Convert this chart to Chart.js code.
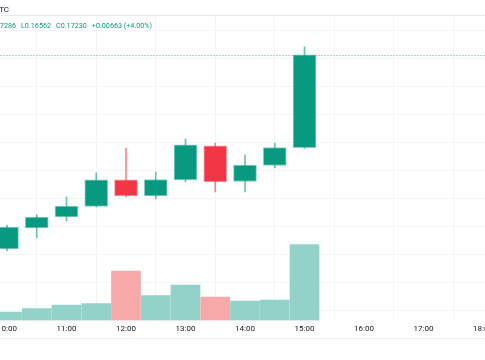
<!DOCTYPE html>
<html>
<head>
<meta charset="utf-8">
<script src="https://cdn.jsdelivr.net/npm/chart.js@4/dist/chart.umd.min.js"></script>
<style>
  html, body { margin: 0; padding: 0; background: #fff; }
  #wrap { width: 485px; height: 360px; }
</style>
</head>
<body>
<div id="wrap"><canvas id="chart" width="485" height="360"></canvas></div>
<script>
/* ============================================================
   DATA — 30 min candles
============================================================ */
const symbol = "BTC";
const hours  = [10, 10.5, 11, 11.5, 12, 12.5, 13, 13.5, 14, 14.5, 15];
const open   = [0.15843, 0.15993, 0.16071, 0.16146, 0.16336, 0.16221, 0.16336, 0.16579, 0.16325, 0.16439, 0.16567];
const high   = [0.16014, 0.16086, 0.16214, 0.16386, 0.16564, 0.16393, 0.16629, 0.16600, 0.16514, 0.16600, 0.17286];
const low    = [0.15829, 0.15921, 0.16043, 0.16143, 0.16214, 0.16200, 0.16321, 0.16250, 0.16250, 0.16421, 0.16562];
const close  = [0.16000, 0.16071, 0.16150, 0.16336, 0.16221, 0.16339, 0.16586, 0.16321, 0.16443, 0.16568, 0.17230];
const volume = [170, 240, 310, 340, 990, 500, 710, 470, 390, 410, 1520];

const hourTicks  = [10, 11, 12, 13, 14, 15, 16, 17, 18];
const priceTicks = [0.154, 0.156, 0.158, 0.160, 0.162, 0.164, 0.166, 0.168, 0.170, 0.172, 0.174];

/* ============================================================
   COLORS
============================================================ */
const UP = "#089981";
const DOWN = "#f23645";
const UP_EDGE = "rgba(8, 153, 129, 0.45)";
const DOWN_EDGE = "rgba(242, 54, 69, 0.45)";
const UP_WICK = "rgba(8, 153, 129, 0.6)";
const DOWN_WICK = "rgba(242, 54, 69, 0.6)";
const UP_VOL = "#92d2c9";
const DOWN_VOL = "#f7a9a9";
const GRID = "#f3f5f9";

const isUp = hours.map((_, i) => close[i] >= open[i]);

/* ============================================================
   OVERLAY — title, OHLC legend, last price line, borders
============================================================ */
const overlay = {
    id: "overlay",
    beforeDraw(chart) {
        const ctx = chart.ctx;
        ctx.save();
        ctx.fillStyle = "#fff";
        ctx.fillRect(0, 0, chart.width, chart.height);
        ctx.restore();
    },
    beforeDatasetsDraw(chart) {
        const { ctx, chartArea, scales } = chart;
        const n = close.length - 1;
        const y = Math.round(scales.y.getPixelForValue(close[n])) + 0.5;

        ctx.save();
        ctx.strokeStyle = "rgba(8, 153, 129, 0.35)";
        ctx.lineWidth = 1;
        ctx.setLineDash([2, 1]);
        ctx.beginPath();
        ctx.moveTo(chartArea.left, y);
        ctx.lineTo(chartArea.right, y);
        ctx.stroke();
        ctx.restore();
    },
    afterDraw(chart) {
        const { ctx, chartArea, scales } = chart;
        const n = close.length - 1;

        ctx.save();
        // pane top border and time axis bottom border
        ctx.strokeStyle = "#e8eaf1";
        ctx.lineWidth = 1;
        ctx.beginPath();
        ctx.moveTo(0, chartArea.top - 0.5);
        ctx.lineTo(chart.width, chartArea.top - 0.5);
        ctx.stroke();
        ctx.strokeStyle = "#eef0f4";
        ctx.beginPath();
        ctx.moveTo(0, Math.round(scales.x.bottom) - 0.5);
        ctx.lineTo(chart.width, Math.round(scales.x.bottom) - 0.5);
        ctx.stroke();

        // symbol title
        ctx.font = "8px Roboto";
        ctx.fillStyle = "#131722";
        ctx.textBaseline = "middle";
        ctx.textAlign = "right";
        ctx.fillText(symbol, 9, 10);

        // OHLC legend
        const change = close[n] - open[n];
        const pct = change / open[n] * 100;
        const sign = change >= 0 ? "+" : "-";
        const items = [
            "O" + open[n].toFixed(5),
            "H" + high[n].toFixed(5),
            "L" + low[n].toFixed(5),
            "C" + close[n].toFixed(5),
            sign + Math.abs(change).toFixed(5) + " (" + sign + Math.abs(pct).toFixed(2) + "%)"
        ];
        ctx.font = "7.2px Roboto";
        ctx.fillStyle = change >= 0 ? UP : DOWN;
        ctx.textAlign = "left";
        const gap = 5;
        const widths = items.map(t => ctx.measureText(t).width);
        let x = 21 - widths[0] - widths[1] - 2 * gap;
        items.forEach((t, i) => {
            ctx.fillText(t, x, 26);
            x += widths[i] + gap;
        });
        ctx.restore();
    }
};

/* ============================================================
   CHART
============================================================ */
new Chart(document.getElementById("chart"), {
    type: "bar",
    data: {
        datasets: [
            {
                label: "Body",
                data: hours.map((h, i) => ({ x: h, y: [open[i], close[i]] })),
                backgroundColor: isUp.map(u => u ? UP : DOWN),
                borderColor: isUp.map(u => u ? UP_EDGE : DOWN_EDGE),
                borderWidth: 1,
                borderSkipped: false,
                barThickness: 23,
                grouped: false,
                yAxisID: "y"
            },
            {
                label: "Wick",
                data: hours.map((h, i) => ({ x: h, y: [low[i], high[i]] })),
                backgroundColor: isUp.map(u => u ? UP_WICK : DOWN_WICK),
                borderWidth: 0,
                barThickness: 1,
                grouped: false,
                yAxisID: "y"
            },
            {
                label: "Volume",
                data: hours.map((h, i) => ({ x: h, y: volume[i] })),
                backgroundColor: isUp.map(u => u ? UP_VOL : DOWN_VOL),
                borderWidth: 0,
                barThickness: 29,
                grouped: false,
                yAxisID: "yv"
            }
        ]
    },
    options: {
        responsive: false,
        animation: false,
        devicePixelRatio: 1,
        layout: { padding: { top: 16, bottom: 21, left: 0, right: 0 } },
        plugins: {
            legend: { display: false },
            tooltip: { enabled: false },
            title: { display: false }
        },
        scales: {
            x: {
                type: "linear",
                offset: false,
                min: 10 - 7 / 59.5,
                max: 18 + 2 / 59.5,
                afterBuildTicks: s => { s.ticks = hourTicks.map(v => ({ value: v })); },
                afterFit: s => { s.height = 18.5; s.paddingLeft = 0; s.paddingRight = 0; },
                grid: { color: GRID, drawTicks: false },
                border: { display: false },
                ticks: {
                    autoSkip: false,
                    maxRotation: 0,
                    padding: 4,
                    color: "#131722",
                    font: { family: "Roboto", size: 8 },
                    callback: v => v + ":00"
                }
            },
            y: {
                type: "linear",
                position: "right",
                min: 0.15332,
                max: 0.17507,
                afterBuildTicks: s => { s.ticks = priceTicks.map(v => ({ value: v })); },
                afterFit: s => { s.width = 0; },
                grid: { color: GRID, drawTicks: false },
                border: { display: false },
                ticks: { display: false }
            },
            yv: {
                type: "linear",
                display: false,
                min: 0,
                max: 6090
            }
        }
    },
    plugins: [overlay]
});
</script>
</body>
</html>
